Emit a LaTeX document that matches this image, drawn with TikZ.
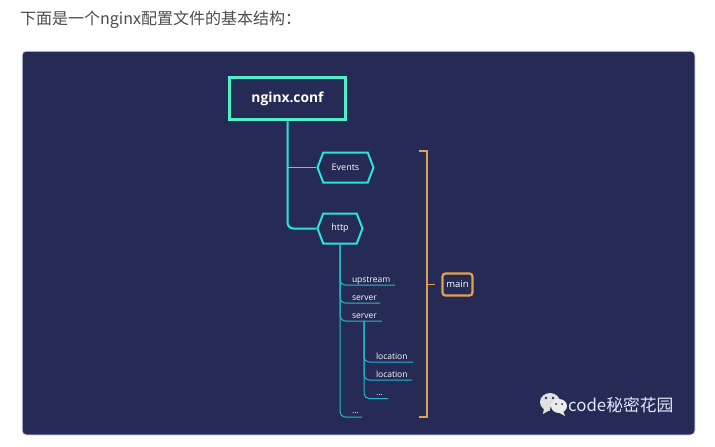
\documentclass[tikz,border=0pt]{standalone}
\usepackage{fontspec}
\setmainfont{Open Sans}
\newfontfamily\cjkfont{Noto Sans CJK SC}
\usetikzlibrary{shapes.symbols, calc}
\definecolor{panelblue}{HTML}{262B55}
\definecolor{rootgreen}{HTML}{4DF0C8}
\definecolor{hexcyan}{HTML}{2BE3DC}
\definecolor{leafcyan}{HTML}{27B9CC}
\definecolor{bracketorange}{HTML}{E0A050}
\tikzstyle{hexnode} = [draw=hexcyan, line width=2pt, text=white, font=\fontsize{9}{11}\selectfont,
  signal, signal to=west and east, signal pointer angle=138,
  minimum height=30pt, inner sep=0pt]
\tikzstyle{leafnode} = [text=white, font=\fontsize{8.5}{10}\selectfont, text width=42pt, align=left,
  text height=7pt, text depth=2pt, inner sep=0pt]
\tikzstyle{mainline} = [draw=hexcyan, line width=2pt, rounded corners=6pt]
\tikzstyle{leafline} = [draw=leafcyan, line width=1pt, rounded corners=5pt]
\tikzstyle{bracket} = [draw=bracketorange, line width=1.6pt]

\begin{document}
\begin{tikzpicture}[x=1pt, y=-1pt, node distance=18pt]
  \useasboundingbox (0,0) rectangle (715,447);
  \fill[white] (0,0) rectangle (715,447);

  % Heading above the panel
  \node [anchor=west, inner sep=0pt, text=black!70, font=\cjkfont\fontsize{16}{19}\selectfont] (heading) at (20,20)
  {下面是一个nginx配置文件的基本结构：};

  % Panel
  \fill [panelblue, rounded corners=4pt, draw=blue!8, line width=1pt] (22,51) rectangle (695,435);

  % Root node
  \node [draw=rootgreen, line width=3.5pt, text=white, minimum width=116pt, minimum height=42pt,
         font=\fontsize{13.8}{17}\selectfont\bfseries] (nginx) at (287.5,98.5)
  {nginx.conf};

  % Hexagons
  \node [hexnode, minimum width=56pt] (events) at (345.5,167.5) {Events};
  \node [hexnode, minimum width=45pt] (http) at (340,228.5) {http};

  % Children of http
  \node [leafnode] (upstream) at (373,279.5) {upstream};
  \node [leafnode, below of=upstream] (server1) {server};
  \node [leafnode, below of=server1] (server2) {server};
  \node [leafnode] (dots1) at (373,411) {...};

  % Children of the second server
  \node [leafnode] (location1) at (397,356.5) {location};
  \node [leafnode, below of=location1] (location2) {location};
  \node [leafnode, below of=location2] (dots2) {...};

  % Free ends of the underlines
  \coordinate (upstreamend) at (395,285);
  \coordinate (server1end) at (380,303);
  \coordinate (server2end) at (382,321);
  \coordinate (dots1end) at (362,417);
  \coordinate (server2root) at (364,321);
  \coordinate (location1end) at (413,362);
  \coordinate (location2end) at (412,380);
  \coordinate (dots2end) at (388,398.5);

  % Connectors
  \draw [mainline] (nginx.south) |- (http.west);
  \draw [leafline, draw=hexcyan, line width=1.5pt] (nginx.south |- events.west) -- (events.west);
  \draw [leafline] (http.south) |- (upstreamend);
  \draw [leafline] (http.south) |- (server1end);
  \draw [leafline] (http.south) |- (server2end);
  \draw [leafline] (http.south) |- (dots1end);
  \draw [leafline] (server2root) |- (location1end);
  \draw [leafline] (server2root) |- (location2end);
  \draw [leafline] (server2root) |- (dots2end);

  % Bracket and its label
  \node [draw=bracketorange, line width=2.2pt, rounded corners=3pt, text=white, minimum width=30pt,
         minimum height=22pt, inner sep=0pt, font=\fontsize{9.5}{11}\selectfont] (main) at (457.5,284.5)
  {main};
  \coordinate (brackettop) at (419,151);
  \coordinate (bracketbottom) at (419,417);
  \coordinate (bracketmid) at (427,284.5);
  \draw [bracket] (brackettop) -| (bracketbottom -| bracketmid) -- (bracketbottom);
  \draw [bracket] (bracketmid) -- ++(8,0);

  % Watermark
  \fill [black!12] (550,402) ellipse [x radius=10, y radius=9];
  \fill [black!12] (544,408) -- (543,414) -- (550,410) -- cycle;
  \fill [panelblue] (559,410) ellipse [x radius=9, y radius=8];
  \fill [black!8] (559,406) ellipse [x radius=8, y radius=7];
  \fill [black!8] (563,411) -- (565,416) -- (558,412) -- cycle;
  \fill [panelblue] (546,398) circle (1.3) (553,398) circle (1.3) (556,404) circle (1) (562,404) circle (1);
  \node [anchor=west, inner sep=0pt, text=white!90!blue, font=\cjkfont\fontsize{16.8}{20}\selectfont] (mark) at (568,405)
  {code秘密花园};
\end{tikzpicture}
\end{document}
